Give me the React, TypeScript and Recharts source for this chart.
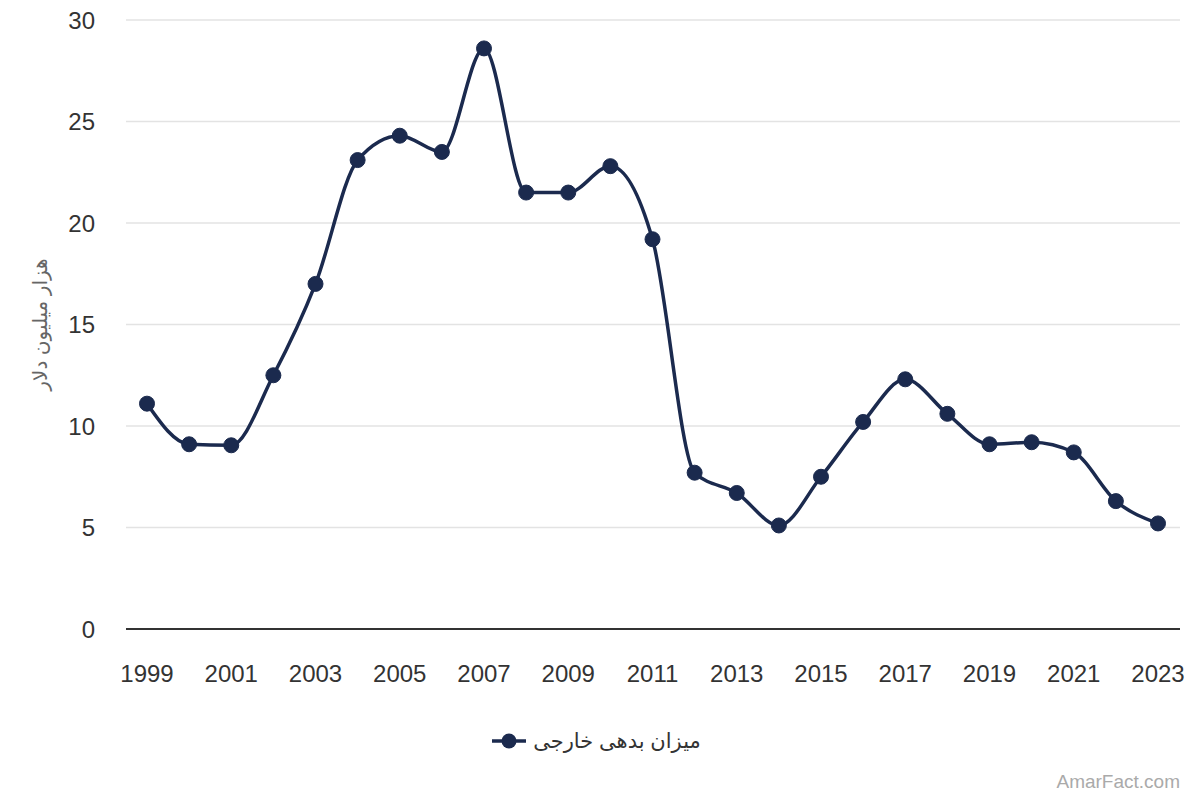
import React from 'react';
import { LineChart, Line, XAxis, YAxis, CartesianGrid, Legend } from 'recharts';

const years = ['1999','2000','2001','2002','2003','2004','2005','2006','2007','2008','2009','2010','2011','2012','2013','2014','2015','2016','2017','2018','2019','2020','2021','2022','2023'];
const debt = [11.1, 9.1, 9.05, 12.5, 17, 23.1, 24.3, 23.5, 28.6, 21.5, 21.5, 22.8, 19.2, 7.7, 6.7, 5.1, 7.5, 10.2, 12.3, 10.6, 9.1, 9.2, 8.7, 6.3, 5.2];
const yTicks = [0, 5, 10, 15, 20, 25, 30];
const seriesName = 'میزان بدهی خارجی';
const yLabel = 'هزار میلیون دلار';
const watermark = 'AmarFact.com';

const data = years.map((y, i) => ({ year: y, value: debt[i] }));

const NAVY = '#1b2a4e';
const FONT = '"Liberation Sans", Arial, "DejaVu Sans", sans-serif';

const LegendContent = () => (
  <div style={{ display: 'flex', justifyContent: 'center', alignItems: 'center', height: 40, fontFamily: FONT, paddingLeft: 12 }}>
    <svg width={36} height={20} style={{ marginRight: 6 }}>
      <line x1={1} y1={10} x2={35} y2={10} stroke={NAVY} strokeWidth={3.5} />
      <circle cx={18} cy={10} r={7.5} fill={NAVY} />
    </svg>
    <span style={{ fontSize: 21, color: '#333', direction: 'rtl' }}>{seriesName}</span>
  </div>
);

export default function App() {
  return (
    <div style={{ position: 'absolute', left: 0, top: 0, width: 1200, height: 800, background: '#fff' }}>
      <LineChart width={1200} height={800} data={data} margin={{ top: 20, right: 20, left: 0, bottom: 39 }}>
        <CartesianGrid vertical={false} stroke="#e3e3e3" strokeWidth={1.5} />
        <XAxis
          dataKey="year"
          interval={1}
          height={92}
          tickSize={0}
          tickMargin={36}
          padding={{ left: 21, right: 22 }}
          axisLine={{ stroke: '#333', strokeWidth: 2 }}
          tick={{ fill: '#333', fontSize: 24, fontFamily: FONT }}
        />
        <YAxis
          domain={[0, 30]}
          ticks={yTicks}
          width={126}
          tickSize={0}
          tickMargin={31}
          axisLine={false}
          tick={{ fill: '#333', fontSize: 24, fontFamily: FONT }}
          label={{ value: yLabel, angle: -90, position: 'insideLeft', offset: 40, style: { fill: '#666', fontSize: 20, fontFamily: FONT, textAnchor: 'middle' } }}
        />
        <Legend verticalAlign="bottom" wrapperStyle={{ height: 40 }} content={<LegendContent />} />
        <Line
          type="monotone"
          dataKey="value"
          name={seriesName}
          stroke={NAVY}
          strokeWidth={3.5}
          dot={{ r: 7.5, fill: NAVY, stroke: NAVY, strokeWidth: 1 }}
          activeDot={false}
          isAnimationActive={false}
        />
      </LineChart>
      <div style={{ position: 'absolute', right: 20, top: 771, fontSize: 19, color: '#aaa', fontFamily: FONT }}>{watermark}</div>
    </div>
  );
}
